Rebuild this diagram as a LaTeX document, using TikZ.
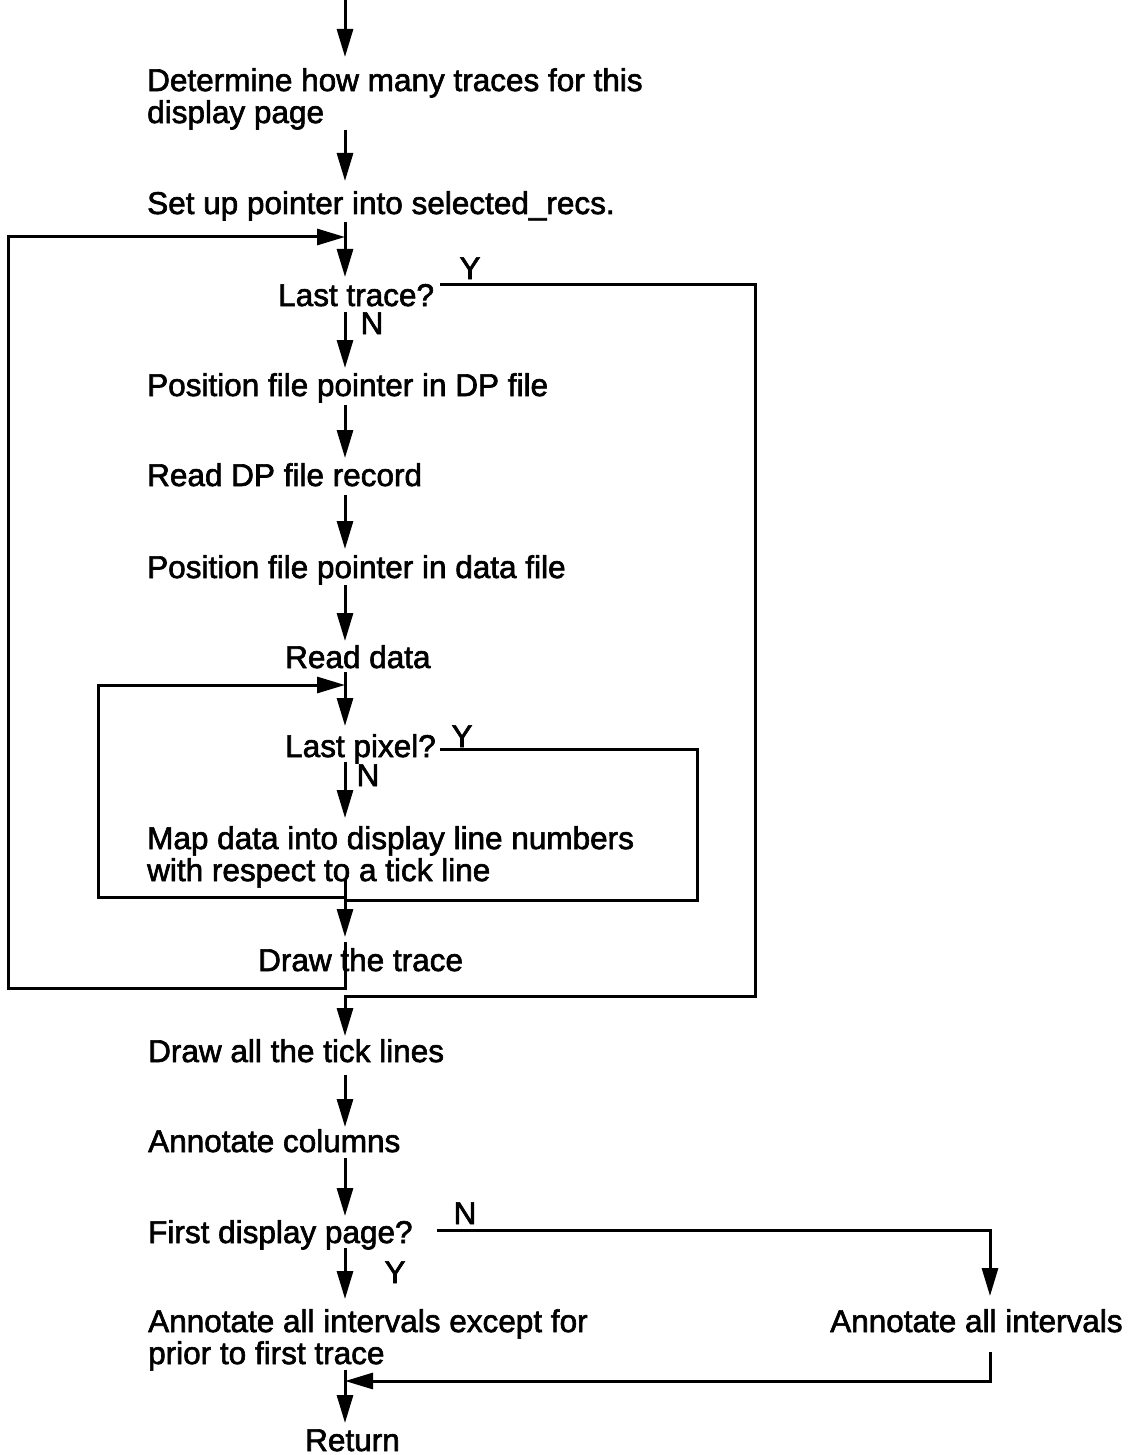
\documentclass[tikz,border=0pt]{standalone}
\usepackage{fontspec}
\setmainfont{Liberation Sans}[FakeBold=2]
\usetikzlibrary{arrows.meta}
\begin{document}
\begin{tikzpicture}[x=1pt,y=-1pt,
  txt/.style={anchor=base west,inner sep=0pt,font=\fontsize{31.5}{32}\selectfont},
  txtml/.style={anchor=north west,inner sep=0pt,align=left,font=\fontsize{31.5}{32}\selectfont},
  lbl/.style={anchor=base,inner sep=0pt,font=\fontsize{31.5}{32}\selectfont},
  flow/.style={line width=3pt},
  arr/.style={flow,-{Triangle[length=28pt,width=16pt]}}]
\useasboundingbox (0,0) rectangle (1137,1455);

% texts
\node[txtml] (det) at (147,68) {Determine how many traces for this\\display page};
\node[txt] (setup) at (147,214) {Set up pointer into selected\_recs.};
\node[txt] (lt) at (278,306) {Last trace?};
\node[txt] (pos1) at (147,396) {Position file pointer in DP file};
\node[txt] (rdp) at (147,486) {Read DP file record};
\node[txt] (pos2) at (147,578) {Position file pointer in data file};
\node[txt] (rd) at (285,668) {Read data};
\node[txt] (lp) at (285,757) {Last pixel?};
\node[txtml] (map) at (147,826) {Map data into display line numbers\\with respect to a tick line};
\node[txt] (dt) at (258,971) {Draw the trace};
\node[txt] (dat) at (148,1062) {Draw all the tick lines};
\node[txt] (ac) at (148,1152) {Annotate columns};
\node[txt] (fdp) at (148,1243) {First display page?};
\node[txtml] (aie) at (148,1309) {Annotate all intervals except for\\prior to first trace};
\node[txt] (aai) at (830,1332) {Annotate all intervals};
\node[txt] (ret) at (305,1451) {Return};

% branch labels
\node[lbl] (y1) at (470,279) {Y};
\node[lbl] (n1) at (372,334) {N};
\node[lbl] (y2) at (462,747) {Y};
\node[lbl] (n2) at (368,786) {N};
\node[lbl] (n3) at (465,1224) {N};
\node[lbl] (y3) at (395,1283) {Y};

% connector points
\coordinate (entry) at (345,0);
\coordinate (mergeA) at (345,237);
\coordinate (mergeB) at (345,685);
\coordinate (joinB) at (345,900);
\coordinate (joinA) at (345,996);
\coordinate (mergeC) at (345,1381);

% main spine
\draw[arr] (entry) -- (345,57);
\draw[arr] (345,130) -- (345,181);
\draw[arr] (345,222) -- (345,277);
\draw[arr] (345,312) -- (345,368);
\draw[arr] (345,405) -- (345,458);
\draw[arr] (345,495) -- (345,549);
\draw[arr] (345,585) -- (345,641);
\draw[arr] (345,672) -- (345,726);
\draw[arr] (345,762) -- (345,818);
\draw[arr] (345,880) -- (joinB) -- (345,937);
\draw[arr] (345,1075) -- (345,1127);
\draw[arr] (345,1158) -- (345,1216);
\draw[arr] (345,1248) -- (345,1299);
\draw[arr] (345,1370) -- (345,1423);

% outer loop (back to Last trace?)
\draw[arr] (345,942) -- (345,988) -- (8,988) -- (8,237) -- (mergeA);
% outer exit (Y of Last trace?)
\draw[arr] (440,284) -- (755,284) -- (755,996) -- (joinA) -- (345,1036);

% inner loop (back to Last pixel?)
\draw[arr] (345,880) -- (345,897) -- (98,897) -- (98,685) -- (mergeB);
% inner exit (Y of Last pixel?)
\draw[flow] (440,749) -- (697,749) -- (697,900) -- (joinB);

% N branch of First display page?
\draw[arr] (437,1230) -- (990,1230) -- (990,1296);
\draw[arr] (990,1352) -- (990,1381) -- (mergeC);
\end{tikzpicture}
\end{document}
